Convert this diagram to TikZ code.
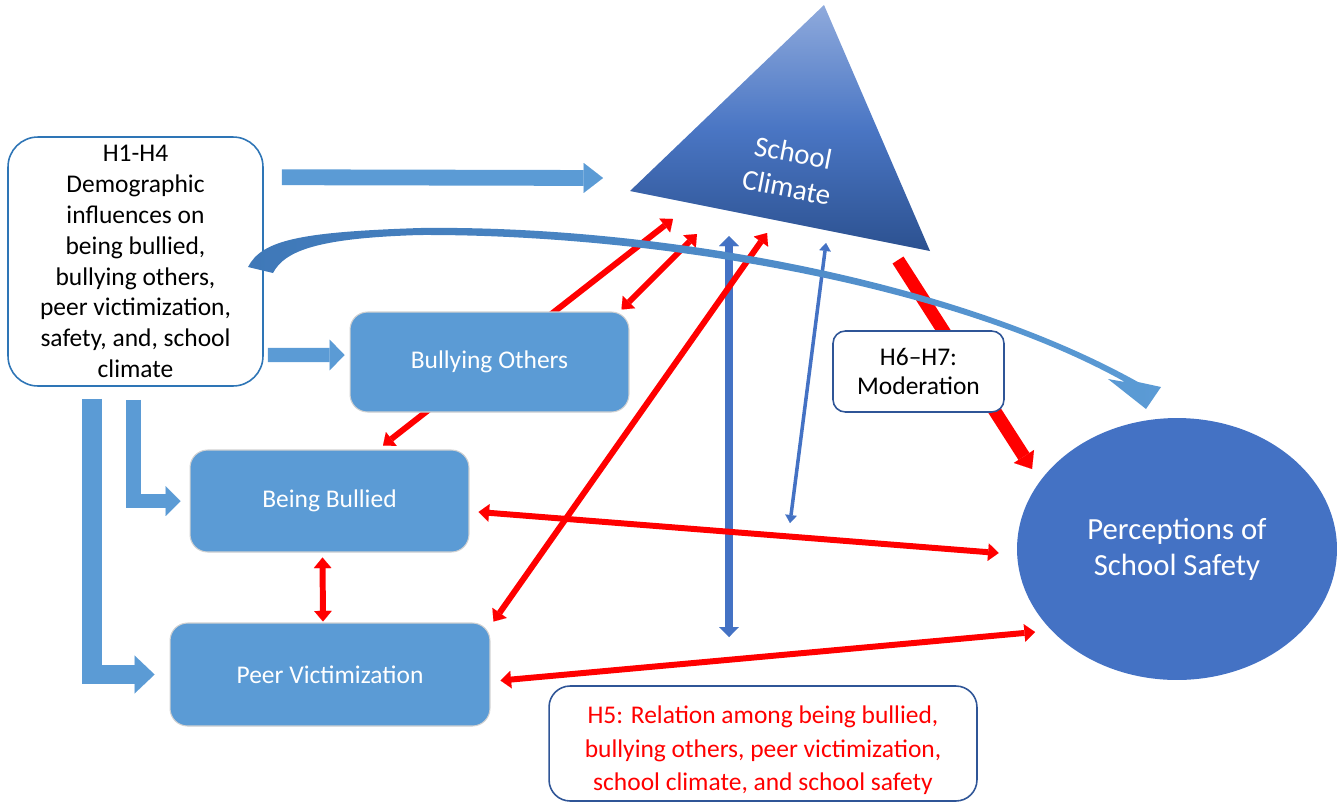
\documentclass[tikz,border=0pt]{standalone}
\usepackage{fontspec}
\setmainfont{Carlito}
\usetikzlibrary{arrows.meta,calc,shapes.geometric}
\definecolor{lb}{HTML}{5B9BD5}
\definecolor{db}{HTML}{4472C4}
\definecolor{rd}{HTML}{FF0000}
\definecolor{bdA}{HTML}{2E75B6}
\definecolor{bdB}{HTML}{2F5597}
\definecolor{triA}{HTML}{8FAADC}
\definecolor{triM}{HTML}{4A76C4}
\definecolor{triB}{HTML}{2C5190}
\definecolor{curA}{HTML}{3F78B8}
\tikzset{
  RT/.tip={Triangle[width=10pt,length=6pt,line width=0.01pt]},
  BT/.tip={Triangle[width=11.3pt,length=5.7pt,line width=0.01pt]},
  ST/.tip={Triangle[width=6.6pt,length=4.5pt,line width=0.01pt]},
  KT/.tip={Triangle[width=13.6pt,length=8.5pt,line width=0.01pt]},
  lbbox/.style={rectangle, rounded corners=10pt, fill=lb, draw=white!82!black, line width=0.6pt,
    text=white, font=\fontsize{14.5}{17.6}\selectfont, inner sep=0pt, align=center},
  wbox/.style={rectangle, fill=white, line width=0.9pt, inner sep=0pt, align=center},
  redarr/.style={draw=rd, line width=3.4pt, RT-RT},
  bluearr/.style={draw=db, line width=4.5pt, BT-BT},
  thinblue/.style={draw=db, line width=2pt, ST-ST},
  blk/.style={draw=lb, line join=miter},
}
\begin{document}
\begin{tikzpicture}[x=0.02cm,y=-0.02cm]
\useasboundingbox (0,0) rectangle (1338,802);

% triangle School Climate
\coordinate (ta) at (824,5);
\coordinate (tb) at (630,191);
\coordinate (tc) at (930,251);
\shade[top color=triA, bottom color=triB, middle color=triM] (ta) -- (tb) -- (tc) -- cycle;
\node[text=white, font=\fontsize{16.5}{20}\selectfont, rotate=-11, align=center, inner sep=0pt] (sc) at (790,170) {School\\Climate};

% nodes
\node[wbox, draw=bdA, rounded corners=17pt, minimum width=5.1cm, minimum height=4.98cm,
  font=\fontsize{14.5}{17.6}\selectfont] (h1) at (135.5,261.5)
  {H1-H4\\Demographic\\influences on\\being bullied,\\bullying others,\\peer victimization,\\safety, and, school\\climate};
\node[lbbox, minimum width=5.58cm, minimum height=2.04cm] (bb) at (329.5,501) {Being Bullied};
\node[lbbox, minimum width=6.4cm, minimum height=2.06cm] (pv) at (330,674.5) {Peer Victimization};
\node[ellipse, fill=db, inner sep=0pt, minimum width=6.4cm, minimum height=5.24cm, text=white,
  align=center, font=\fontsize{17.5}{20.4}\selectfont] (pss) at (1177,549) {Perceptions of\\School Safety};

% free ends at the triangle
\coordinate (sc1) at (673,219);
\coordinate (sc2) at (697,234);
\coordinate (sc3) at (767,233);
\coordinate (sc4) at (729,236);
\coordinate (sc5) at (826,243);
\coordinate (sc6) at (898,260);
\coordinate (scin) at (603,178);
\coordinate (bvend) at (729,637);
\coordinate (tbend) at (790,523);

% blue connectors
\draw[bluearr] (sc4) -- (bvend);
\draw[thinblue] (sc5) -- (tbend);

% block arrows
\draw[blk, line width=9pt, -{Triangle[width=17pt,length=11pt,line width=0.01pt]}]
  ($(h1.north east)+(18,41)$) -- (scin);
\draw[blk, line width=8.5pt, -{Triangle[width=17pt,length=8.5pt,line width=0.01pt]}]
  ($(h1.south west)+(126.5,13)$) |- ($(bb.west)+(-9,0)$);
\draw[blk, line width=11.3pt, -{Triangle[width=21.5pt,length=11.3pt,line width=0.01pt]}]
  ($(h1.south west)+(85,12)$) |- ($(pv.west)+(-15,0)$);

% red connectors
\draw[redarr] ($(bb.north)+(53.5,-4)$) -- (sc1);
\draw[redarr] ($(bb.east)+(9,11)$) -- ($(pss.west)+(-18,4)$);
\draw[redarr] ($(pv.east)+(10,6)$) -- ($(pss.center)+(-142,83)$);
\draw[redarr] ($(bb.south)+(-7,5)$) -- ($(pv.north)+(-7,-1)$);
\draw[redarr] ($(pv.north east)+(3,-1)$) -- (sc3);

% Bullying Others box (above the long red arrow)
\node[lbbox, minimum width=5.58cm, minimum height=2cm] (bo) at (489.5,362) {Bullying Others};
\draw[redarr] ($(bo.north east)+(-8,-2)$) -- (sc2);
\draw[blk, line width=8pt, -{Triangle[width=17.5pt,length=8.5pt,line width=0.01pt]}]
  ($(h1.east)+(4,93.5)$) -- ($(bo.west)+(-5,-7)$);

% thick red arrow triangle -> safety
\draw[draw=rd, line width=7.4pt, -KT] (sc6) -- ($(pss.center)+(-145,-80)$);

% curved arrow from H1 to safety
\shade[left color=curA, right color=lb]
  (248,267) .. controls (262,240) and (300,232) .. (420,228)
  .. controls (650,225) and (950,277) .. (1138,382)
  -- (1161,387) -- (1146,409) -- (1108,379) -- (1125,382)
  .. controls (950,284) and (650,234) .. (420,235)
  .. controls (320,238) and (285,250) .. (273,273) -- cycle;

% hypothesis boxes
\node[wbox, draw=bdB, rounded corners=7pt, minimum width=3.42cm, minimum height=1.62cm,
  font=\fontsize{14.5}{17}\selectfont] (h67) at (918.5,371.5) {H6--H7:\\Moderation};
\node[wbox, draw=bdB, rounded corners=12pt, minimum width=8.56cm, minimum height=2.3cm] (h5) at (763,743.5) {};
\node[align=center, text=rd, inner sep=0pt, font=\fontsize{14.5}{19}\selectfont] (h5t) at ($(h5.center)+(0,7)$)
  {H5: Relation among being bullied,\\bullying others, peer victimization,\\school climate, and school safety};
\end{tikzpicture}
\end{document}
